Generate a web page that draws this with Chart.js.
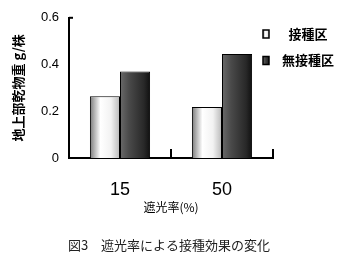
<!DOCTYPE html>
<html><head><meta charset="utf-8">
<script src="https://cdn.jsdelivr.net/npm/chart.js@4"></script>
<style>html,body{margin:0;padding:0;background:#fff}canvas{display:block}</style>
</head><body>
<canvas id="c" width="345" height="259"></canvas>
<script>
const categories = ['15', '50'];
const seriesNames = ['接種区', '無接種区'];
const inoculated = [0.264, 0.218];
const nonInoculated = [0.370, 0.445];
const yTicks = [0, 0.2, 0.4, 0.6];
const xTitle = '遮光率(%)';
const yTitle = '地上部乾物重 g/株';
const caption = '図3　遮光率による接種効果の変化';

const NARROW = '"Liberation Sans Narrow", "Arial Narrow", "Liberation Sans", sans-serif';
const CJK = '"Noto Sans CJK JP", "Noto Sans CJK SC", sans-serif';

const gradStops = [
  [[0, '#7a7a7a'], [0.35, '#ffffff'], [0.7, '#f2f2f2'], [1, '#b8b8b8']],
  [[0, '#6a6a6a'], [0.3, '#4a4a4a'], [0.8, '#282828'], [1, '#101010']]
];
function makeGrad(ctx, x0, x1, stops) {
  const g = ctx.createLinearGradient(x0, 0, x1, 0);
  stops.forEach(s => g.addColorStop(s[0], s[1]));
  return g;
}

const decor = {
  id: 'decor',
  beforeDatasetsDraw(chart) {
    const ctx = chart.ctx;
    chart.data.datasets.forEach((ds, di) => {
      chart.getDatasetMeta(di).data.forEach(el => {
        const x0 = el.x - el.width / 2, x1 = el.x + el.width / 2;
        el.options.backgroundColor = makeGrad(ctx, x0, x1, gradStops[di]);
      });
    });
  },
  afterDraw(chart) {
    const ctx = chart.ctx;
    const xs = chart.scales.x, ys = chart.scales.y;
    const base = ys.getPixelForValue(0);
    const top = ys.getPixelForValue(yTicks[yTicks.length - 1]);
    const half = (xs.getPixelForValue(1) - xs.getPixelForValue(0)) / 2;
    ctx.save();
    ctx.strokeStyle = '#000';
    ctx.lineWidth = 2;
    for (let i = 0; i < categories.length; i++) {
      const bx = xs.getPixelForValue(i) + half;
      ctx.beginPath(); ctx.moveTo(bx, base); ctx.lineTo(bx, base - 9); ctx.stroke();
    }
    ctx.beginPath(); ctx.moveTo(xs.left, top); ctx.lineTo(xs.left + 4, top); ctx.stroke();

    const ly = [34, 60.5];
    ctx.textAlign = 'center';
    ctx.textBaseline = 'middle';
    ctx.font = 'bold 13px ' + CJK;
    seriesNames.forEach((name, i) => {
      const bx = 263, by = ly[i] - 4, bw = 6, bh = 8;
      ctx.fillStyle = makeGrad(ctx, bx, bx + bw, gradStops[i]);
      ctx.fillRect(bx, by, bw, bh);
      ctx.lineWidth = 1.5;
      ctx.strokeRect(bx, by, bw, bh);
      ctx.fillStyle = '#000';
      ctx.fillText(name, 308, ly[i]);
    });

    ctx.font = '13px ' + CJK;
    ctx.fillStyle = '#222';
    ctx.fillText(caption, 169, 245);
    ctx.restore();
  }
};

new Chart(document.getElementById('c'), {
  type: 'bar',
  data: {
    labels: categories,
    datasets: [
      { label: seriesNames[0], data: inoculated, backgroundColor: () => '#fff', borderColor: '#000', borderWidth: 1 },
      { label: seriesNames[1], data: nonInoculated, backgroundColor: () => '#333', borderColor: '#000', borderWidth: 1 }
    ]
  },
  options: {
    responsive: false,
    animation: false,
    events: [],
    layout: { padding: { left: 0, right: 72, top: 17, bottom: 34 } },
    datasets: { bar: { categoryPercentage: 0.59, barPercentage: 1.0 } },
    plugins: { legend: { display: false }, title: { display: false }, tooltip: { enabled: false } },
    scales: {
      x: {
        grid: { display: false, drawTicks: false, offset: true },
        border: { display: true, color: '#000', width: 2 },
        ticks: { color: '#000', font: { family: NARROW, size: 18 }, padding: 21 },
        title: { display: true, text: xTitle, color: '#000', font: { family: CJK, size: 12 }, padding: { top: 0, bottom: 10 } },
        afterFit(s) { s.height = 67; }
      },
      y: {
        min: 0, max: 0.6,
        afterBuildTicks(s) { s.ticks = yTicks.map(v => ({ value: v })); },
        grid: { display: false, drawTicks: false },
        border: { display: true, color: '#000', width: 2 },
        ticks: {
          color: '#000', padding: 10,
          font: { family: NARROW, size: 13 },
          callback: v => (v === 0 ? '0' : Number(v).toFixed(1))
        },
        title: { display: true, text: yTitle, color: '#000', font: { family: CJK, size: 13, weight: 'bold' }, padding: { top: 10, bottom: 0 } },
        afterFit(s) { s.width = 69; }
      }
    }
  },
  plugins: [decor]
});
</script>
</body></html>
